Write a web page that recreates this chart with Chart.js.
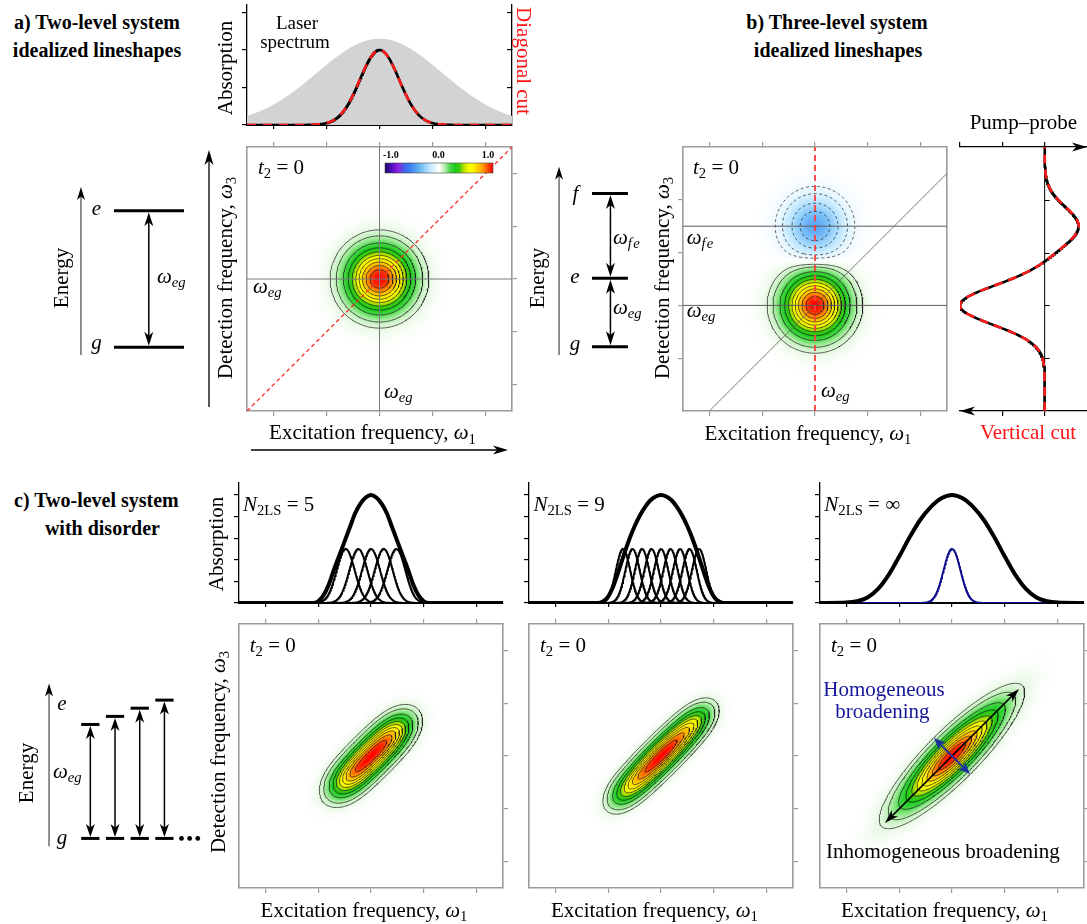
<!DOCTYPE html>
<html lang="en">
<head>
<meta charset="utf-8">
<title>Idealized 2D lineshapes</title>
<script src="https://cdn.jsdelivr.net/npm/chart.js@4.4.1/dist/chart.umd.min.js"></script>
<style>
  html, body { margin: 0; padding: 0; background: #fff; }
  #fig { position: relative; width: 1087px; height: 924px; overflow: hidden; background: #fff; }
  #fig canvas { position: absolute; }
  .t { position: absolute; font-family: 'Liberation Serif', 'Times New Roman', serif; font-size: 21px; line-height: 1; white-space: nowrap; color: #000; }
  .c { transform: translate(-50%, -50%); }
  .l { transform: translate(0, -50%); }
  .rl { transform: translate(-50%, -50%) rotate(-90deg); }
  .rr { transform: translate(-50%, -50%) rotate(90deg); }
  .bold { font-weight: bold; font-size: 20px; }
  .s { font-size: 0.7em; position: relative; top: 0.3em; }
  .red { color: #ff1414; }
  .navy { color: #16169a; }
  .cb { font-weight: bold; font-size: 10px; }
</style>
</head>
<body>
<div id="fig"></div>
<script>
const fig = document.getElementById('fig');

/* ---------------- data ---------------- */
// frequency axes, in tick units with ω_eg at 0
const freqTicks = [-2, -1, 0, 1, 2];
const freqMin = -2.5, freqMax = 2.5;
const contourLevels = [0.05, 0.1, 0.2, 0.3, 0.4, 0.5, 0.6, 0.7, 0.8, 0.9];
const negContourLevels = [-0.3, -0.2, -0.1, -0.05];

// a) two-level system: [centre, height, width]
const laserSpectrum = [0, 2.3, 1.18];
const absorptionA = [0, 2.0, 0.37];
const absTicksA = [0, 1, 2, 3];
const absTicksARight = [1, 2, 3];
const peakA_w1 = [0], peakA_w3 = [0], peakA_amp = [1.0], peakA_width = [0.38];
const colorbarTicks = ['-1.0', '0.0', '1.0'];

// b) three-level system: bleach/emission at ω_eg, excited-state absorption at ω_fe
const omegaEg = 0, omegaFe = 1.5;
const peakB_w1 = [0, 0], peakB_w3 = [omegaEg, omegaFe], peakB_amp = [1.0, -0.4], peakB_width = [0.37, 0.37];
const ticksB_w3 = [-1, 0, 1, 2];
const rangeB_w3 = [-2, 3];
const ppRange = [-1, 0.5];
const ppTicksTop = [-1, -0.5, 0], ppTicksBottom = [-0.5, 0];

// c) two-level system with disorder
const sitesN5 = [-0.48, -0.24, 0, 0.24, 0.48];
const sitesN9 = [-0.72, -0.54, -0.36, -0.18, 0, 0.18, 0.36, 0.54, 0.72];
const siteHeight = 2.5;
const siteWidthN5 = 0.17, siteWidthN9 = 0.135;
// 2D maps: relative weight of each site, width along and across the diagonal
const siteWeightsN5 = [0.8, 0.95, 1, 0.95, 0.8];
const siteWeightsN9 = [0.5, 0.7, 0.85, 0.96, 1, 0.96, 0.85, 0.7, 0.5];
const diagWidthN5 = 0.28, diagWidthN9 = 0.25;
const crossWidthN5 = 0.19, crossWidthN9 = 0.165;
// total absorption of the ensembles
const envN5X = [-2.5, -1.2, -1.1, -1.0, -0.9, -0.8, -0.7, -0.6, -0.5, -0.4, -0.3, -0.2, -0.1, 0, 0.1, 0.2, 0.3, 0.4, 0.5, 0.6, 0.7, 0.8, 0.9, 1.0, 1.1, 1.2, 2.5];
const envN5Y = [0, 0, 0, 0.08, 0.35, 0.85, 1.55, 2.2, 2.85, 3.5, 4.15, 4.6, 4.88, 5.0, 4.88, 4.6, 4.15, 3.5, 2.85, 2.2, 1.55, 0.85, 0.35, 0.08, 0, 0, 0];
const envN9X = [-2.5, -1.2, -1.1, -1.0, -0.9, -0.8, -0.7, -0.6, -0.5, -0.4, -0.3, -0.2, -0.1, 0, 0.1, 0.2, 0.3, 0.4, 0.5, 0.6, 0.7, 0.8, 0.9, 1.0, 1.1, 1.2, 2.5];
const envN9Y = [0, 0, 0.07, 0.3, 0.8, 1.5, 2.25, 2.95, 3.55, 4.05, 4.45, 4.75, 4.93, 5.0, 4.93, 4.75, 4.45, 4.05, 3.55, 2.95, 2.25, 1.5, 0.8, 0.3, 0.07, 0, 0];
const envInfX = [-2.5, -2.0, -1.8, -1.6, -1.4, -1.2, -1.0, -0.8, -0.6, -0.4, -0.2, 0, 0.2, 0.4, 0.6, 0.8, 1.0, 1.2, 1.4, 1.6, 1.8, 2.0, 2.5];
const envInfY = [0, 0.02, 0.08, 0.25, 0.65, 1.3, 2.15, 3.05, 3.85, 4.45, 4.85, 5.0, 4.85, 4.45, 3.85, 3.05, 2.15, 1.3, 0.65, 0.25, 0.08, 0.02, 0];
const homogeneousLine = [0, 2.5, 0.16];
const infCentre = 0;
const infWidths = [0.77, 0.2];          // along / across the diagonal
const absTicksC = [0, 1, 2, 3, 4, 5];
const inhomArrow = [-1.27, 1.27];
const homArrow = [-0.34, 0.34];

// energy levels (units of ω_eg)
const levelsA = [0, 1];                 // g, e
const levelsB = [0, 1, 2.24];           // g, e, f
const upperLevelsC = [0.875, 0.937, 1.0, 1.062];

// colour scale, -1 … 1
const cmapStops = [-1, -0.88, -0.76, -0.64, -0.5, -0.35, -0.2, -0.08, 0,
  0.05, 0.12, 0.2, 0.3, 0.38, 0.45, 0.52, 0.6, 0.72, 0.83, 0.92, 1];
const cmapColors = ['#1c0064', '#5010c0', '#9020e0', '#4060e8', '#3c8cf0', '#70b8f8', '#b0e0ff', '#e4f6ff', '#ffffff',
  '#e4f8e0', '#a8eca0', '#4cd84c', '#18c818', '#40cc10', '#a8e000', '#eef400', '#ffff00', '#ffd000', '#ff9000', '#ff4000', '#ff0000'];

/* ---------------- helpers ---------------- */
const gauss = (x, c, h, s) => h * Math.exp(-((x - c) ** 2) / (2 * s * s));
const xGrid = [];
for (let i = 0; i <= 500; i++) xGrid.push(freqMin + (freqMax - freqMin) * i / 500);

function peaks2D(w1, w3, amp, width) {
  return (x, y) => {
    let v = 0;
    for (let k = 0; k < amp.length; k++) v += amp[k] * Math.exp(-((x - w1[k]) ** 2 + (y - w3[k]) ** 2) / (2 * width[k] ** 2));
    return v;
  };
}
// ensemble of sites on the diagonal, normalised to a peak of 1
function siteSum2D(sites, weights, sAlong, sAcross) {
  const f = (x, y) => {
    const u = (x + y) / Math.SQRT2, v = (y - x) / Math.SQRT2;
    let s = 0;
    sites.forEach((w, k) => { const du = u - w * Math.SQRT2; s += weights[k] * Math.exp(-du * du / (2 * sAlong * sAlong) - v * v / (2 * sAcross * sAcross)); });
    return s;
  };
  let m = 0;
  for (let t = -1.5; t <= 1.5; t += 0.005) m = Math.max(m, f(t, t));
  return (x, y) => f(x, y) / m;
}

const hexRgb = h => [parseInt(h.slice(1, 3), 16), parseInt(h.slice(3, 5), 16), parseInt(h.slice(5, 7), 16)];
const cmapRgb = cmapColors.map(hexRgb);
function cmap(v) {
  v = Math.max(-1, Math.min(1, v));
  let k = 0;
  while (k < cmapStops.length - 2 && v > cmapStops[k + 1]) k++;
  const t = (v - cmapStops[k]) / (cmapStops[k + 1] - cmapStops[k]);
  const a = cmapRgb[k], b = cmapRgb[k + 1];
  return [a[0] + (b[0] - a[0]) * t, a[1] + (b[1] - a[1]) * t, a[2] + (b[2] - a[2]) * t];
}

// marching squares on a regular grid, joined into polylines
function sampleGrid(fn, xr, yr, n) {
  const g = new Float64Array((n + 1) * (n + 1));
  for (let j = 0; j <= n; j++) for (let i = 0; i <= n; i++)
    g[j * (n + 1) + i] = fn(xr[0] + i * (xr[1] - xr[0]) / n, yr[0] + j * (yr[1] - yr[0]) / n);
  return { g, n, xr, yr };
}
function isoLines(grid, level) {
  const { g, n, xr, yr } = grid, W = n + 1;
  const dx = (xr[1] - xr[0]) / n, dy = (yr[1] - yr[0]) / n;
  const val = (i, j) => g[j * W + i] - level;
  const pts = new Map(), adj = new Map();
  const edge = (key, i1, j1, i2, j2) => {
    if (!pts.has(key)) {
      const a = val(i1, j1), b = val(i2, j2), t = a / (a - b);
      pts.set(key, { x: xr[0] + (i1 + (i2 - i1) * t) * dx, y: yr[0] + (j1 + (j2 - j1) * t) * dy });
    }
    return key;
  };
  const link = (k1, k2) => {
    if (!adj.has(k1)) adj.set(k1, []);
    if (!adj.has(k2)) adj.set(k2, []);
    adj.get(k1).push(k2); adj.get(k2).push(k1);
  };
  for (let j = 0; j < n; j++) for (let i = 0; i < n; i++) {
    const a = val(i, j), b = val(i + 1, j), c = val(i + 1, j + 1), d = val(i, j + 1);
    const es = [];
    if ((a > 0) !== (b > 0)) es.push(edge('h' + i + '_' + j, i, j, i + 1, j));
    if ((b > 0) !== (c > 0)) es.push(edge('v' + (i + 1) + '_' + j, i + 1, j, i + 1, j + 1));
    if ((d > 0) !== (c > 0)) es.push(edge('h' + i + '_' + (j + 1), i, j + 1, i + 1, j + 1));
    if ((a > 0) !== (d > 0)) es.push(edge('v' + i + '_' + j, i, j, i, j + 1));
    if (es.length === 2) link(es[0], es[1]);
    else if (es.length === 4) {
      const ctr = (a + b + c + d) / 4;
      if ((ctr > 0) === (a > 0)) { link(es[0], es[1]); link(es[2], es[3]); }
      else { link(es[0], es[3]); link(es[1], es[2]); }
    }
  }
  const used = new Set(), lines = [];
  for (const start of adj.keys()) {
    if (used.has(start)) continue;
    const path = [start]; used.add(start);
    let cur = start;
    for (;;) { const nb = adj.get(cur).find(k => !used.has(k)); if (!nb) break; path.push(nb); used.add(nb); cur = nb; }
    cur = start;
    for (;;) { const nb = adj.get(cur).find(k => !used.has(k)); if (!nb) break; path.unshift(nb); used.add(nb); cur = nb; }
    const p = path.map(k => pts.get(k));
    if (path.length > 2 && adj.get(path[0]).includes(path[path.length - 1])) p.push(p[0]);
    lines.push(p);
  }
  return lines;
}
function contourSets(fn, yr, levels) {
  const grid = sampleGrid(fn, [freqMin, freqMax], yr, 220);
  const sets = [];
  levels.forEach(L => isoLines(grid, L).forEach(p => sets.push({
    data: p, showLine: true, pointRadius: 0, borderColor: '#1a1a1a', borderWidth: 0.7,
    borderDash: L < 0 ? [3, 2.5] : [], order: 5
  })));
  return sets;
}
const line = (pts, color, width, dash, order) => ({
  data: pts, showLine: true, pointRadius: 0, borderColor: color, borderWidth: width,
  borderDash: dash || [], order: order || 0, fill: false
});

function heatLayer(fn) {
  let img = null;
  return {
    id: 'heat',
    beforeDraw(chart) {
      const { ctx, chartArea: a, scales: { x, y } } = chart;
      const w = Math.round(a.right - a.left), h = Math.round(a.bottom - a.top);
      if (!img) {
        img = document.createElement('canvas'); img.width = w; img.height = h;
        const c2 = img.getContext('2d'), d = c2.createImageData(w, h);
        for (let j = 0; j < h; j++) {
          const yv = y.getValueForPixel(a.top + j + 0.5);
          for (let i = 0; i < w; i++) {
            const col = cmap(fn(x.getValueForPixel(a.left + i + 0.5), yv)), o = 4 * (j * w + i);
            d.data[o] = col[0]; d.data[o + 1] = col[1]; d.data[o + 2] = col[2]; d.data[o + 3] = 255;
          }
        }
        c2.putImageData(d, 0, 0);
      }
      ctx.drawImage(img, a.left, a.top);
    }
  };
}

function head(ctx, x, y, ang, len, wid, color) {
  ctx.save(); ctx.translate(x, y); ctx.rotate(ang); ctx.fillStyle = color;
  ctx.beginPath(); ctx.moveTo(0, 0); ctx.lineTo(-len, -wid / 2); ctx.lineTo(-len * 0.72, 0); ctx.lineTo(-len, wid / 2);
  ctx.closePath(); ctx.fill(); ctx.restore();
}
function arrowLine(ctx, x1, y1, x2, y2, o) {
  const ang = Math.atan2(y2 - y1, x2 - x1), c = Math.cos(ang), s = Math.sin(ang), back = o.len * 0.6;
  let sx = x1, sy = y1, ex = x2, ey = y2;
  if (o.end) { ex -= c * back; ey -= s * back; }
  if (o.start) { sx += c * back; sy += s * back; }
  ctx.save(); ctx.strokeStyle = o.lineColor || o.color; ctx.lineWidth = o.width;
  ctx.beginPath(); ctx.moveTo(sx, sy); ctx.lineTo(ex, ey); ctx.stroke(); ctx.restore();
  if (o.end) head(ctx, x2, y2, ang, o.len, o.wid, o.color);
  if (o.start) head(ctx, x1, y1, ang + Math.PI, o.len, o.wid, o.color);
}

function mount(area, margin, config) {
  const [l, t, r, b] = area, [ml, mt, mr, mb] = margin;
  const cv = document.createElement('canvas');
  const w = r - l + ml + mr, h = b - t + mt + mb;
  cv.width = w; cv.height = h; cv.style.width = w + 'px'; cv.style.height = h + 'px';
  cv.style.left = (l - ml) + 'px'; cv.style.top = (t - mt) + 'px';
  fig.appendChild(cv);
  config.options = Object.assign({
    responsive: false, maintainAspectRatio: false, animation: false, devicePixelRatio: 1, events: [],
    layout: { padding: { left: ml, top: mt, right: mr, bottom: mb } },
    plugins: { legend: { display: false }, tooltip: { enabled: false } }
  }, config.options || {});
  return new Chart(cv, config);
}

function axisSide(id, pos, min, max, ticks, o) {
  return [id, {
    type: 'linear', axis: (pos === 'top' || pos === 'bottom') ? 'x' : 'y', position: pos, min, max, display: true,
    afterBuildTicks: s => { s.ticks = ticks.map(v => ({ value: v })); },
    afterFit: s => { if (s.isHorizontal()) s.height = 0; else s.width = 0; },
    ticks: { display: false },
    grid: { display: !!o.tick, drawOnChartArea: false, drawTicks: !!o.tick, tickLength: o.tick || 0,
            color: o.tickColor || o.color, lineWidth: o.tickWidth || 1 },
    border: { display: o.border !== false, color: o.color, width: o.width || 1.5 }
  }];
}
const hidden = (min, max) => ({ type: 'linear', display: false, min, max });

const frameStyle = { color: '#9b9b9b', width: 1.6, tickWidth: 1.2 };
function frame2D(yr, yTicks, sides) {
  return Object.fromEntries([
    axisSide('x', 'bottom', freqMin, freqMax, freqTicks, { ...frameStyle, tick: sides.includes('b') ? 5 : 0 }),
    axisSide('xt', 'top', freqMin, freqMax, freqTicks, { ...frameStyle, tick: sides.includes('t') ? 5 : 0 }),
    axisSide('y', 'left', yr[0], yr[1], yTicks, { ...frameStyle, tick: sides.includes('l') ? 5 : 0 }),
    axisSide('yr', 'right', yr[0], yr[1], yTicks, { ...frameStyle, tick: sides.includes('r') ? 5 : 0 })
  ]);
}

/* ---------------- a) absorption + laser spectrum ---------------- */
{
  const laserPts = xGrid.map(x => ({ x, y: gauss(x, ...laserSpectrum) }));
  const absPts = xGrid.map(x => ({ x, y: gauss(x, ...absorptionA) }));
  const blk = { color: '#000', tickWidth: 1.2 };
  mount([247, 5, 512, 125], [12, 4, 8, 8], {
    type: 'line',
    data: { datasets: [
      { data: absPts, borderColor: '#ff1a1a', borderWidth: 2.6, borderDash: [9, 7], pointRadius: 0, order: 0 },
      { data: absPts, borderColor: '#000', borderWidth: 2.6, pointRadius: 0, order: 1 },
      { data: laserPts, borderWidth: 0, backgroundColor: '#d3d3d3', fill: 'origin', pointRadius: 0, order: 2 }
    ] },
    options: { scales: Object.fromEntries([
      axisSide('x', 'bottom', freqMin, freqMax, freqTicks, { ...blk, width: 2, tick: 4 }),
      axisSide('y', 'left', 0, 3.2, absTicksA, { ...blk, width: 1.3, tick: 5 }),
      axisSide('yr', 'right', 0, 3.2, absTicksARight, { ...blk, width: 1.3, tick: -5 })
    ]) }
  });
}

/* ---------------- a) 2D spectrum ---------------- */
{
  const fA = peaks2D(peakA_w1, peakA_w3, peakA_amp, peakA_width);
  const decor = {
    id: 'decorA',
    afterDraw(chart) {
      const { ctx, chartArea: a } = chart;
      arrowLine(ctx, a.left - 38, a.bottom - 4, a.left - 38, a.top + 3, { end: true, color: '#000', width: 1.3, len: 15, wid: 9 });
      arrowLine(ctx, a.left + 4, a.bottom + 39, a.right - 4, a.bottom + 39, { end: true, color: '#000', width: 1.3, len: 15, wid: 9 });
      // colour bar
      const x0 = a.left + 138, y0 = a.top + 16, w = 108, h = 10;
      const grad = ctx.createLinearGradient(x0, 0, x0 + w, 0);
      cmapStops.forEach((s, k) => grad.addColorStop((s + 1) / 2, cmapColors[k]));
      ctx.fillStyle = grad; ctx.fillRect(x0, y0, w, h);
      ctx.strokeStyle = '#444'; ctx.lineWidth = 0.6; ctx.strokeRect(x0, y0, w, h);
    }
  };
  mount([247, 147, 512, 411], [46, 10, 12, 50], {
    type: 'scatter',
    data: { datasets: [
      line([{ x: freqMin, y: freqMin }, { x: freqMax, y: freqMax }], '#ff2a2a', 1.3, [4, 3], 0),
      line([{ x: peakA_w1[0], y: freqMin }, { x: peakA_w1[0], y: freqMax }], '#7a7a7a', 1, null, 1),
      line([{ x: freqMin, y: peakA_w3[0] }, { x: freqMax, y: peakA_w3[0] }], '#7a7a7a', 1, null, 1),
      ...contourSets(fA, [freqMin, freqMax], contourLevels)
    ] },
    options: { scales: frame2D([freqMin, freqMax], freqTicks, 'tbr') },
    plugins: [heatLayer(fA), decor]
  });
}

/* ---------------- energy-level diagrams ---------------- */
function levelDiagram(area, xr, yr, spec) {
  const datasets = spec.levels.map(([x1, x2, E]) => line([{ x: x1, y: E }, { x: x2, y: E }], '#000', 3));
  if (spec.dots) datasets.push({ data: spec.dots.map(x => ({ x, y: 0 })), showLine: false, pointRadius: 2.4,
    pointBackgroundColor: '#000', pointBorderWidth: 0 });
  const plugin = {
    id: 'levelArrows',
    afterDatasetsDraw(chart) {
      const { ctx, scales: { x, y } } = chart;
      const [ax, a1, a2] = spec.axis;
      arrowLine(ctx, x.getPixelForValue(ax), y.getPixelForValue(a1), x.getPixelForValue(ax), y.getPixelForValue(a2),
        { end: true, color: '#000', lineColor: '#555', width: 1.3, len: 13, wid: 8 });
      spec.arrows.forEach(([px, e1, e2]) => {
        const X = x.getPixelForValue(px), Y1 = y.getPixelForValue(e1) - 1.5, Y2 = y.getPixelForValue(e2) + 1.5;
        arrowLine(ctx, X, Y1, X, Y2, { start: true, end: true, color: '#000', width: 1.5, len: spec.head[0], wid: spec.head[1] });
      });
    }
  };
  return mount(area, [0, 0, 0, 0], {
    type: 'scatter', data: { datasets },
    options: { scales: { x: hidden(xr[0], xr[1]), y: hidden(yr[0], yr[1]) } },
    plugins: [plugin]
  });
}

levelDiagram([40, 150, 200, 365], [0, 1], [-0.1296, 1.4444], {
  levels: levelsA.map(E => [0.4625, 0.9, E]),
  arrows: [[0.68, levelsA[0], levelsA[1]]],
  axis: [0.256, -0.056, 1.173], head: [14, 9]
});
levelDiagram([520, 150, 660, 365], [0, 1], [-0.2675, 2.876], {
  levels: levelsB.map(E => [0.514, 0.771, E]),
  arrows: [[0.646, levelsB[0], levelsB[1]], [0.646, levelsB[1], levelsB[2]]],
  axis: [0.279, -0.121, 2.632], head: [14, 9]
});
levelDiagram([10, 670, 210, 860], [-3.09, 4.683], [-0.135, 1.2625], {
  levels: [...upperLevelsC.map((E, k) => [k - 0.37, k + 0.37, E]), ...upperLevelsC.map((E, k) => [k - 0.37, k + 0.37, 0])],
  arrows: upperLevelsC.map((E, k) => [k, 0, E]),
  axis: [-1.671, -0.061, 1.189], dots: [3.69, 4.02, 4.35], head: [13, 9]
});

/* ---------------- b) 2D spectrum ---------------- */
const fB = peaks2D(peakB_w1, peakB_w3, peakB_amp, peakB_width);
mount([683, 147, 947, 411], [12, 10, 10, 10], {
  type: 'scatter',
  data: { datasets: [
    line([{ x: peakB_w1[0], y: rangeB_w3[0] }, { x: peakB_w1[0], y: rangeB_w3[1] }], '#ff3b3b', 1.8, [6, 4], 0),
    line([{ x: freqMin, y: omegaFe }, { x: freqMax, y: omegaFe }], '#5a5a5a', 1, null, 1),
    line([{ x: freqMin, y: omegaEg }, { x: freqMax, y: omegaEg }], '#5a5a5a', 1, null, 1),
    line([{ x: rangeB_w3[0], y: rangeB_w3[0] }, { x: freqMax, y: freqMax }], '#5a5a5a', 0.8, null, 1),
    ...contourSets(fB, rangeB_w3, [...negContourLevels, ...contourLevels])
  ] },
  options: { scales: frame2D(rangeB_w3, ticksB_w3, 'tbl') },
  plugins: [heatLayer(fB)]
});

/* ---------------- b) vertical cut / pump-probe ---------------- */
{
  const yGrid = [];
  for (let i = 0; i <= 500; i++) yGrid.push(rangeB_w3[0] + (rangeB_w3[1] - rangeB_w3[0]) * i / 500);
  const cut = yGrid.map(w3 => ({ x: -fB(peakB_w1[0], w3), y: w3 }));
  const blk = { color: '#000', width: 1.3, tickWidth: 1.2 };
  const decor = {
    id: 'ppAxes',
    afterDraw(chart) {
      const { ctx, chartArea: a, scales: { x, y } } = chart;
      head(ctx, a.right, a.top, 0, 15, 9, '#000');
      head(ctx, a.left, a.bottom, Math.PI, 15, 9, '#000');
      const x0 = x.getPixelForValue(0);
      ctx.save(); ctx.strokeStyle = '#000'; ctx.lineWidth = 1;
      ticksB_w3.forEach(v => { const py = Math.round(y.getPixelForValue(v)) + 0.5; ctx.beginPath(); ctx.moveTo(x0, py); ctx.lineTo(x0 + 5, py); ctx.stroke(); });
      ctx.restore();
    }
  };
  mount([960, 147, 1087, 411], [14, 10, 0, 10], {
    type: 'scatter',
    data: { datasets: [
      line(cut, '#ff1a1a', 2.6, [9, 6], 0),
      line(cut, '#000', 2.6, null, 1),
      line([{ x: 0, y: rangeB_w3[0] }, { x: 0, y: rangeB_w3[1] }], '#000', 1, null, 2)
    ] },
    options: { scales: Object.fromEntries([
      axisSide('x', 'bottom', ppRange[0], ppRange[1], ppTicksBottom, { ...blk, tick: 5 }),
      axisSide('xt', 'top', ppRange[0], ppRange[1], ppTicksTop, { ...blk, tick: 5 }),
      ['y', hidden(rangeB_w3[0], rangeB_w3[1])]
    ]) },
    plugins: [decor]
  });
}

/* ---------------- c) disorder: absorption and 2D spectra ---------------- */
function absorptionC(left, curves) {
  const blk = { color: '#000', tickWidth: 1.2 };
  mount([left, 483, left + 264, 603], [12, 4, 4, 8], {
    type: 'line',
    data: { datasets: curves },
    options: { scales: Object.fromEntries([
      axisSide('x', 'bottom', freqMin, freqMax, freqTicks, { ...blk, width: 2, tick: 4 }),
      axisSide('y', 'left', 0, 5.55, absTicksC, { ...blk, width: 1.3, tick: 5 })
    ]) }
  });
}
const envelope = (xs, ys) => ({
  data: xs.map((x, i) => ({ x, y: ys[i] })), borderColor: '#000', borderWidth: 4, pointRadius: 0,
  cubicInterpolationMode: 'monotone', order: 0
});
function siteCurves(sites, s, xs, ys) {
  return [
    envelope(xs, ys),
    ...sites.map(w => ({ data: xGrid.map(x => ({ x, y: gauss(x, w, siteHeight, s) })),
      borderColor: '#000', borderWidth: 2, pointRadius: 0, order: 1 }))
  ];
}
absorptionC(239, siteCurves(sitesN5, siteWidthN5, envN5X, envN5Y));
absorptionC(529, siteCurves(sitesN9, siteWidthN9, envN9X, envN9Y));
absorptionC(820, [
  envelope(envInfX, envInfY),
  { data: xGrid.map(x => ({ x, y: gauss(x, ...homogeneousLine) })), borderColor: '#0c0c8c', borderWidth: 2, pointRadius: 0, order: 1 }
]);

function spectrumC(left, fn, extra) {
  mount([left, 624, left + 264, 888], [10, 10, 10, 10], {
    type: 'scatter',
    data: { datasets: contourSets(fn, [freqMin, freqMax], contourLevels) },
    options: { scales: frame2D([freqMin, freqMax], freqTicks, 'tbr') },
    plugins: [heatLayer(fn), ...(extra ? [extra] : [])]
  });
}
spectrumC(239, siteSum2D(sitesN5, siteWeightsN5, diagWidthN5, crossWidthN5));
spectrumC(529, siteSum2D(sitesN9, siteWeightsN9, diagWidthN9, crossWidthN9));
{
  const fInf = (x, y) => {
    const u = (x - infCentre + y - infCentre) / Math.SQRT2, v = (y - x) / Math.SQRT2;
    return Math.exp(-u * u / (2 * infWidths[0] ** 2) - v * v / (2 * infWidths[1] ** 2));
  };
  const arrows = {
    id: 'broadening',
    afterDatasetsDraw(chart) {
      const { ctx, scales: { x, y } } = chart;
      arrowLine(ctx, x.getPixelForValue(inhomArrow[0]), y.getPixelForValue(inhomArrow[0]),
        x.getPixelForValue(inhomArrow[1]), y.getPixelForValue(inhomArrow[1]),
        { start: true, end: true, color: '#000', width: 1.5, len: 14, wid: 9 });
      arrowLine(ctx, x.getPixelForValue(homArrow[0]), y.getPixelForValue(homArrow[1]),
        x.getPixelForValue(homArrow[1]), y.getPixelForValue(homArrow[0]),
        { start: true, end: true, color: '#1b2f9e', width: 2, len: 12, wid: 10 });
    }
  };
  spectrumC(820, fInf, arrows);
}

/* ---------------- text ---------------- */
function txt(html, x, y, cls, style) {
  const d = document.createElement('div');
  d.className = 't ' + cls; d.innerHTML = html;
  d.style.left = x + 'px'; d.style.top = y + 'px';
  if (style) Object.assign(d.style, style);
  fig.appendChild(d);
}
const W = s => `<i>ω</i><span class="s"><i>${s}</i></span>`;
const Wn = s => `<i>ω</i><span class="s">${s}</span>`;
const T2 = `<i>t</i><span class="s">2</span> = 0`;
const N2 = v => `<i>N</i><span class="s">2LS</span> = ${v}`;
const EXC = `Excitation frequency, ${Wn('1')}`;
const DET = `Detection frequency, ${Wn('3')}`;

// titles
txt('a) Two-level system', 97, 21.6, 'c bold');
txt('idealized lineshapes', 97, 50, 'c bold');
txt('b) Three-level system', 837, 21.6, 'c bold');
txt('idealized lineshapes', 838, 50, 'c bold');
txt('c) Two-level system', 96.4, 500.3, 'c bold');
txt('with disorder', 102.4, 528.3, 'c bold');

// a)
txt('Absorption', 225.2, 68.3, 'rl');
txt('Diagonal cut', 523, 60.8, 'rr red');
txt('Laser', 297, 21.9, 'c', { fontSize: '19px' });
txt('spectrum', 295, 40.6, 'c', { fontSize: '19px' });
txt(T2, 258, 167, 'l');
txt(W('eg'), 253, 286, 'l');
txt(W('eg'), 384, 391, 'l');
txt(DET, 225, 278.3, 'rl');
txt(EXC, 372.5, 432.2, 'c');
txt('Energy', 61, 278, 'rl');
txt('<i>e</i>', 96.5, 207.7, 'c');
txt('<i>g</i>', 96.4, 341.7, 'c');
txt(W('eg'), 157, 275.7, 'l');
txt(colorbarTicks[0], 383, 155, 'l cb');
txt(colorbarTicks[1], 438.5, 155, 'c cb');
txt(colorbarTicks[2], 488, 155, 'c cb');

// b)
txt('Energy', 537, 278, 'rl');
txt('<i>f</i>', 575.5, 193, 'c');
txt('<i>e</i>', 575, 275.7, 'c');
txt('<i>g</i>', 575, 342.7, 'c');
txt(W('f&#8202;e'), 613, 237, 'l');
txt(W('eg'), 613, 307, 'l');
txt(DET, 662.2, 278.3, 'rl');
txt(T2, 693, 167, 'l');
txt(W('f&#8202;e'), 686.7, 237, 'l');
txt(W('eg'), 686.7, 310, 'l');
txt(W('eg'), 821, 389.5, 'l');
txt(EXC, 808, 433, 'c');
txt('Pump–probe', 1023.3, 121.9, 'c');
txt('Vertical cut', 1028, 431.9, 'c red');

// c)
txt('Energy', 25.6, 773, 'rl');
txt('<i>e</i>', 62, 702.7, 'c');
txt('<i>g</i>', 62, 837, 'c');
txt(W('eg'), 53, 771, 'l');
txt('Absorption', 216.4, 544, 'rl');
txt(DET, 218.4, 751.5, 'rl');
txt(N2(sitesN5.length), 243, 504, 'l');
txt(N2(sitesN9.length), 533.5, 504, 'l');
txt(N2('∞'), 824.3, 504, 'l');
txt(T2, 249.7, 645, 'l');
txt(T2, 540, 645, 'l');
txt(T2, 831, 645, 'l');
txt(EXC, 364, 910, 'c');
txt(EXC, 654.4, 910, 'c');
txt(EXC, 944.5, 910, 'c');
txt('Homogeneous', 884, 689, 'c navy');
txt('broadening', 882.4, 711, 'c navy');
txt('Inhomogeneous broadening', 942.9, 850.6, 'c');
</script>
</body>
</html>
